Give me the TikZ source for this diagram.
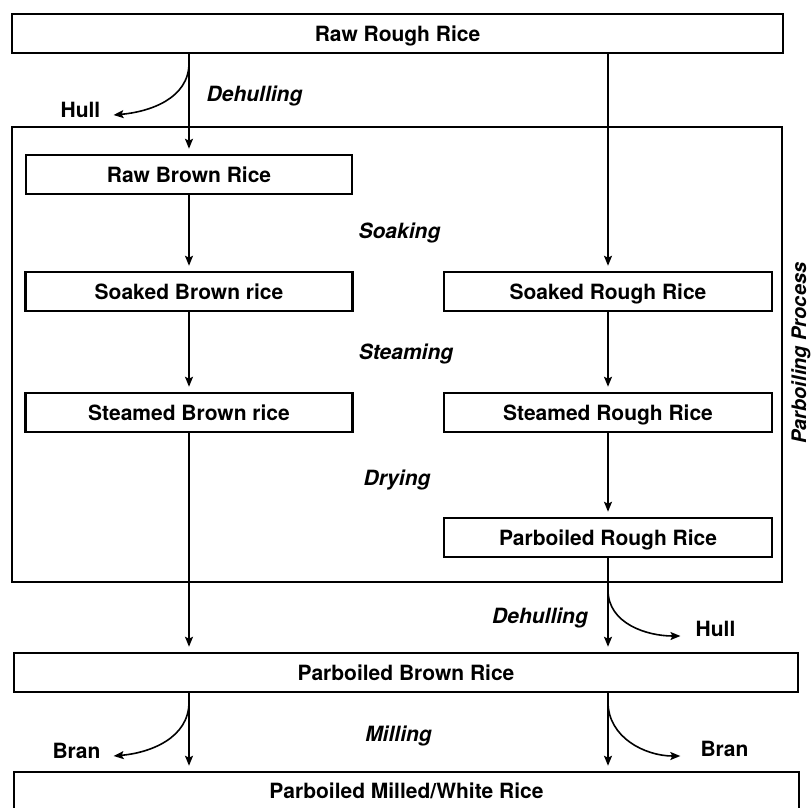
\documentclass[tikz,border=0pt]{standalone}
\usepackage{fontspec}
\setmainfont{TeX Gyre Heros}
\usetikzlibrary{arrows.meta}

\begin{document}
\begin{tikzpicture}[x=1pt, y=-1pt,
    stagebox/.style={draw, line width=2.5pt, inner sep=0pt, minimum height=39pt,
        text height=15pt, text depth=0pt, font=\fontsize{21}{25}\selectfont\bfseries},
    steplabel/.style={inner sep=0pt, font=\fontsize{21}{25}\selectfont\bfseries\itshape},
    sidelabel/.style={inner sep=0pt, font=\fontsize{21}{25}\selectfont\bfseries},
    flow/.style={line width=1.6pt, -{Stealth[length=10pt, width=8pt, inset=2pt]}, shorten >=5pt},
    side/.style={line width=1.6pt, -{Stealth[length=10pt, width=8pt, inset=2pt]}}]
            \useasboundingbox (0,0) rectangle (811,807);
            \draw [line width=2.8pt] (12,127) rectangle (782,582);
            \node [stagebox, minimum width=771pt] (rawrough) at (397.5,33.5) {Raw Rough Rice};
            \node [stagebox, minimum width=326pt] (rawbrown) at (189,174.5) {Raw Brown Rice};
            \node [stagebox, minimum width=327pt] (soakedbrown) at (189,291.5) {Soaked Brown rice};
            \node [stagebox, minimum width=327pt] (steamedbrown) at (189,412.5) {Steamed Brown rice};
            \node [stagebox, minimum width=328pt] (soakedrough) at (608,291.5) {Soaked Rough Rice};
            \node [stagebox, minimum width=328pt] (steamedrough) at (608,412.5) {Steamed Rough Rice};
            \node [stagebox, minimum width=328pt] (parbrough) at (608,537.5) {Parboiled Rough Rice};
            \node [stagebox, minimum width=784pt] (parbrown) at (406,672.5) {Parboiled Brown Rice};
            \node [stagebox, minimum width=785pt, minimum height=37pt] (milled) at (406.5,790.5) {Parboiled Milled/White Rice};
            \node [steplabel] (dehullA) at (254.5,96) {Dehulling};
            \node [steplabel] (soaking) at (399.5,233) {Soaking};
            \node [steplabel] (steaming) at (406,354) {Steaming};
            \node [steplabel] (drying) at (397,480) {Drying};
            \node [steplabel] (dehullB) at (540,618) {Dehulling};
            \node [steplabel] (milling) at (398.5,736) {Milling};
            \node [steplabel, font=\fontsize{20}{24}\selectfont\bfseries\itshape, rotate=90] (process) at (801,353) {Parboiling Process};
            \node [sidelabel] (hullA) at (80.5,110) {Hull};
            \node [sidelabel] (hullB) at (715.5,629) {Hull};
            \node [sidelabel] (branA) at (76.5,751) {Bran};
            \node [sidelabel] (branB) at (724.5,749) {Bran};
            \draw [flow] (rawrough.south -| rawbrown.north) -- (rawbrown.north);
            \draw [flow] (rawbrown) -- (soakedbrown);
            \draw [flow] (soakedbrown) -- (steamedbrown);
            \draw [flow] (steamedbrown.south) -- (parbrown.north -| steamedbrown.south);
            \draw [flow] (rawrough.south -| soakedrough.north) -- (soakedrough.north);
            \draw [flow] (soakedrough) -- (steamedrough);
            \draw [flow] (steamedrough) -- (parbrough);
            \draw [flow] (parbrough.south) -- (parbrown.north -| parbrough.south);
            \draw [flow] (parbrown.south -| steamedbrown.south) -- (milled.north -| steamedbrown.south);
            \draw [flow] (parbrown.south -| parbrough.south) -- (milled.north -| parbrough.south);
            \coordinate (splitA) at (189,63);
            \coordinate (splitB) at (608,590);
            \coordinate (splitC) at (189,702);
            \coordinate (splitD) at (608,702);
            \draw [side] (splitA) to[out=-90, in=5] ([xshift=13pt, yshift=-5pt]hullA.east);
            \draw [side] (splitB) to[out=-90, in=180] ([xshift=-15pt, yshift=-7pt]hullB.west);
            \draw [side] (splitC) to[out=-90, in=5] ([xshift=13pt, yshift=-5pt]branA.east);
            \draw [side] (splitD) to[out=-90, in=180] ([xshift=-20pt, yshift=-7pt]branB.west);
\end{tikzpicture}
\end{document}
